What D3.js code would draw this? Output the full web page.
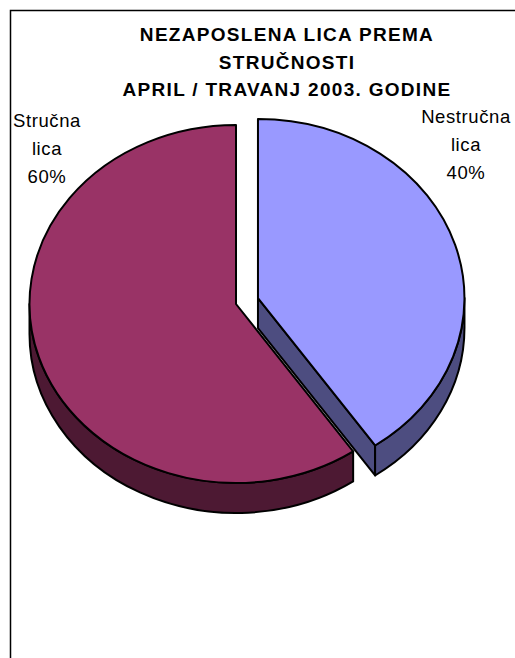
<!DOCTYPE html>
<html>
<head>
<meta charset="utf-8">
<script src="https://cdn.jsdelivr.net/npm/d3@7"></script>
<style>
  body { margin: 0; background: #fff; }
  text { font-family: "Liberation Sans", Arial, sans-serif; fill: #000; }
</style>
</head>
<body>
<div id="chart"></div>
<script>
// data
const categories = ["Nestručna lica", "Stručna lica"],
      shares = [40.4, 59.6],
      topColors = ["#9999ff", "#993366"],
      sideColors = ["#4d4d80", "#4d1933"],
      exploded = [true, false],
      titleLines = ["NEZAPOSLENA LICA PREMA", "STRUČNOSTI", "APRIL / TRAVANJ 2003. GODINE"];

const w = 515, h = 658;
const cx = 236, cy = 304,   // pie centre
      rx = 206.5, ry = 179, // ellipse radii of the tilted pie
      depth = 30,
      explode = 23;

const svg = d3.select("#chart").append("svg")
  .attr("width", w)
  .attr("height", h);

// chart frame (runs off the right and bottom of the picture)
svg.append("rect")
  .attr("x", 10.5)
  .attr("y", 10.5)
  .attr("width", 700)
  .attr("height", 800)
  .attr("fill", "#fff")
  .attr("stroke", "#000")
  .attr("stroke-width", 1.5);

// title
svg.append("text")
  .attr("text-anchor", "middle")
  .style("font-size", "19px")
  .style("font-weight", "bold")
  .style("letter-spacing", "1.3px")
  .selectAll("tspan")
  .data(titleLines)
  .join("tspan")
    .attr("x", 287)
    .attr("y", (d, i) => 41 + i * 27.5)
    .text(d => d);

const pie = d3.pie().sort(null).value(d => d)(shares);
const total = d3.sum(shares);

const pt = (c, a, dy = 0) => [c[0] + rx * Math.sin(a), c[1] - ry * Math.cos(a) + dy];

const slices = pie.map((p, i) => {
  const mid = (p.startAngle + p.endAngle) / 2,
        off = exploded[i] ? explode : 0;
  return {
    i: i,
    a0: p.startAngle,
    a1: p.endAngle,
    c: [cx + off * Math.sin(mid), cy - off * Math.cos(mid) * ry / rx]
  };
});

const arcTo = (p, large, sweep) => `A${rx},${ry} 0 ${large} ${sweep} ${p[0]},${p[1]}`;

const topPath = s => {
  const p0 = pt(s.c, s.a0), p1 = pt(s.c, s.a1),
        large = s.a1 - s.a0 > Math.PI ? 1 : 0;
  return `M${s.c[0]},${s.c[1]}L${p0[0]},${p0[1]}${arcTo(p1, large, 1)}Z`;
};

// outer wall: only the front half (pi/2 .. 3pi/2) can be seen
const wallPath = s => {
  const b0 = Math.max(s.a0, Math.PI / 2), b1 = Math.min(s.a1, 3 * Math.PI / 2);
  if (b1 <= b0) return null;
  const p0 = pt(s.c, b0), p1 = pt(s.c, b1),
        q0 = pt(s.c, b0, depth), q1 = pt(s.c, b1, depth),
        large = b1 - b0 > Math.PI ? 1 : 0;
  return `M${p0[0]},${p0[1]}${arcTo(p1, large, 1)}L${q1[0]},${q1[1]}${arcTo(q0, large, 0)}Z`;
};

// radial cut faces that turn towards the viewer
const facePaths = s => {
  const out = [];
  [[s.a0, s.a0 - Math.PI / 2], [s.a1, s.a1 + Math.PI / 2]].forEach(([a, n]) => {
    if (Math.cos(n) < -0.01) {
      const p = pt(s.c, a), q = pt(s.c, a, depth);
      out.push(`M${s.c[0]},${s.c[1]}L${p[0]},${p[1]}L${q[0]},${q[1]}L${s.c[0]},${s.c[1] + depth}Z`);
    }
  });
  return out;
};

const gPie = svg.append("g")
  .attr("stroke", "#000")
  .attr("stroke-width", 2)
  .attr("stroke-linejoin", "round");

slices.forEach(s => {
  const g = gPie.append("g");
  facePaths(s).forEach(d => g.append("path").attr("d", d).attr("fill", sideColors[s.i]));
  const wp = wallPath(s);
  if (wp) g.append("path").attr("d", wp).attr("fill", sideColors[s.i]);
  g.append("path").attr("d", topPath(s)).attr("fill", topColors[s.i]);
});

// data labels
const labelPos = [{x: 466, y: 123}, {x: 47, y: 127}];
const fmt = d3.format(".0%");

shares.forEach((v, i) => {
  const lines = categories[i].split(" ").concat(fmt(v / total));
  svg.append("text")
    .attr("text-anchor", "middle")
    .style("font-size", "18.5px")
    .style("letter-spacing", "0.6px")
    .selectAll("tspan")
    .data(lines)
    .join("tspan")
      .attr("x", labelPos[i].x)
      .attr("y", (d, j) => labelPos[i].y + j * 27.8)
      .text(d => d);
});
</script>
</body>
</html>
